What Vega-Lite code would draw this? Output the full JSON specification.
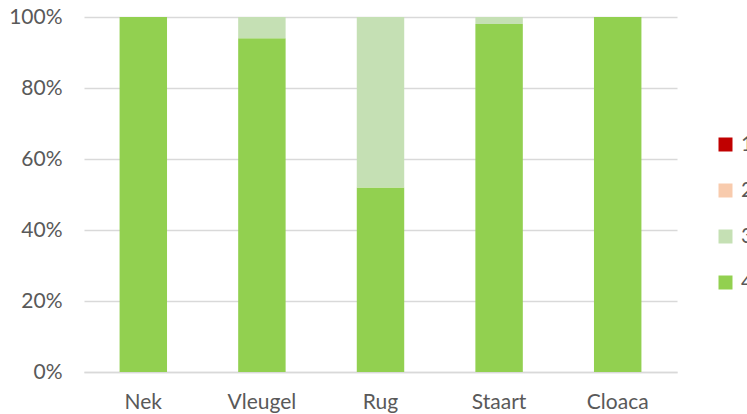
{
  "$schema": "https://vega.github.io/schema/vega-lite/v6.json",
  "width": 593,
  "height": 355,
  "autosize": {"type": "none"},
  "padding": {"left": 84, "top": 17, "right": 70, "bottom": 42},
  "background": "white",
  "config": {
    "view": {"stroke": null},
    "font": "Lato",
    "axis": {"labelFont": "Lato", "labelColor": "#595959", "labelFontSize": 21}
  },
  "data": {
    "values": [
      {"deel": "Nek", "score": "4", "pct": 100},
      {"deel": "Vleugel", "score": "4", "pct": 94},
      {"deel": "Vleugel", "score": "3", "pct": 6},
      {"deel": "Rug", "score": "4", "pct": 52},
      {"deel": "Rug", "score": "3", "pct": 48},
      {"deel": "Staart", "score": "4", "pct": 98},
      {"deel": "Staart", "score": "3", "pct": 2},
      {"deel": "Cloaca", "score": "4", "pct": 100}
    ]
  },
  "mark": {"type": "bar"},
  "encoding": {
    "x": {
      "field": "deel",
      "type": "nominal",
      "sort": ["Nek", "Vleugel", "Rug", "Staart", "Cloaca"],
      "scale": {"paddingInner": 0.6, "paddingOuter": 0.3},
      "axis": {"title": null, "labelAngle": 0, "ticks": false, "domainColor": "#D9D9D9", "domainWidth": 1.5, "labelPadding": 19, "labelBaseline": "top"}
    },
    "y": {
      "field": "pct",
      "type": "quantitative",
      "stack": "normalize",
      "scale": {"domain": [0, 1], "nice": false},
      "axis": {"title": null, "format": "%", "values": [0, 0.2, 0.4, 0.6, 0.8, 1], "ticks": false, "domain": false, "gridColor": "#D9D9D9", "gridWidth": 1.5, "labelPadding": 22}
    },
    "color": {
      "field": "score",
      "type": "nominal",
      "scale": {"domain": ["1", "2", "3", "4"], "range": ["#C00000", "#F8CBAD", "#C5E0B4", "#92D050"]},
      "legend": {
        "title": null,
        "orient": "none",
        "legendX": 631,
        "legendY": 117,
        "symbolType": "square",
        "symbolSize": 196,
        "symbolStrokeWidth": 0,
        "labelFontSize": 21,
        "labelColor": "#595959",
        "labelFont": "Lato",
        "rowPadding": 24,
        "labelOffset": 5
      }
    },
    "order": {"field": "score", "sort": "descending"}
  }
}
